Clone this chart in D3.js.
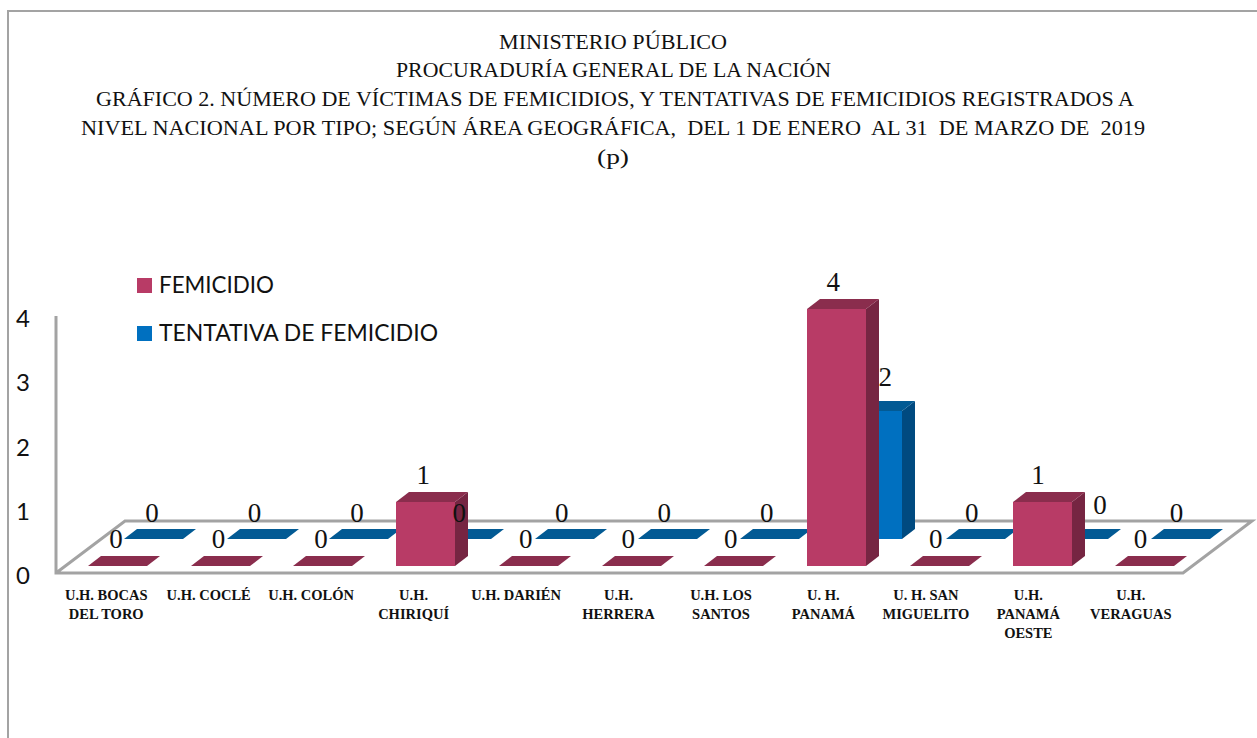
<!DOCTYPE html>
<html>
<head>
<meta charset="utf-8">
<script src="https://cdnjs.cloudflare.com/ajax/libs/d3/7.8.5/d3.min.js"></script>
<style>
  html, body { margin: 0; padding: 0; background: #fff; }
  svg { display: block; }
</style>
</head>
<body>
<div id="chart"></div>
<script>
// Data
const categories = ['BOCAS', 'COCLE', 'COLON', 'CHIRIQUI', 'DARIEN', 'HERRERA', 'SANTOS', 'PANAMA', 'MIGUELITO', 'OESTE', 'VERAGUAS'];
const categoryLabels = [
    ['U.H. BOCAS', 'DEL TORO'], ['U.H. COCLÉ'], ['U.H. COLÓN'], ['U.H.', 'CHIRIQUÍ'], ['U.H. DARIÉN'], ['U.H.', 'HERRERA'],
    ['U.H. LOS', 'SANTOS'], ['U. H.', 'PANAMÁ'], ['U. H. SAN', 'MIGUELITO'], ['U.H.', 'PANAMÁ', 'OESTE'], ['U.H.', 'VERAGUAS']
];
const femicidio = [0, 0, 0, 1, 0, 0, 0, 4, 0, 1, 0];
const tentativa = [0, 0, 0, 0, 0, 0, 0, 2, 0, 0, 0];
const yTicks = [0, 1, 2, 3, 4];
const titleLines = [
    'MINISTERIO PÚBLICO',
    'PROCURADURÍA GENERAL DE LA NACIÓN',
    'GRÁFICO 2. NÚMERO DE VÍCTIMAS DE FEMICIDIOS, Y TENTATIVAS DE FEMICIDIOS REGISTRADOS A',
    'NIVEL NACIONAL POR TIPO; SEGÚN ÁREA GEOGRÁFICA,  DEL 1 DE ENERO  AL 31  DE MARZO DE  2019',
    '(p)'
];
const titleWidths = [228, 435, 1038, 1064, 32];
const titleCenters = [613, 613.5, 615, 613, 613];
const seriesNames = ['FEMICIDIO', 'TENTATIVA DE FEMICIDIO'];
const seriesWidths = [115, 279];

const width = 1257, height = 738;
const serif = '"Liberation Serif", serif';
const sans = 'Lato, "Open Sans", sans-serif';
const gray = '#a3a3a3';

const svg = d3.select('#chart').append('svg')
    .attr('width', width)
    .attr('height', height);

// Outer frame, cut off by the right and bottom of the picture
svg.append('path')
    .attr('d', `M8,${height}V11H${width}`)
    .attr('fill', 'none')
    .attr('stroke', gray)
    .attr('stroke-width', 2);

// Title
svg.append('g').selectAll('text')
    .data(titleLines)
    .join('text')
    .attr('x', (d, i) => titleCenters[i])
    .attr('y', (d, i) => [49, 77, 106, 135, 164][i])
    .attr('text-anchor', 'middle')
    .attr('font-family', serif)
    .attr('font-size', 21)
    .attr('fill', '#111')
    .attr('textLength', (d, i) => titleWidths[i])
    .attr('lengthAdjust', 'spacingAndGlyphs')
    .attr('xml:space', 'preserve')
    .text(d => d);

// Scales
const xAxisScale = d3.scaleBand().domain(categories).range([56, 1183]);
const xBars = d3.scaleBand().domain(categories).range([56, 1186]);
const y = d3.scaleLinear().domain([0, 4]).range([566, 309]);

const barW = 59, depthX = 13, depthY = 10;
const backDX = 36, backDY = 27;   // blue row sits further back on the floor

// Floor and y wall
svg.append('path')
    .attr('d', 'M56,316V573H1183L1252,521H125L56,573')
    .attr('fill', 'none')
    .attr('stroke', gray)
    .attr('stroke-width', 3)
    .attr('stroke-linejoin', 'miter');

// Y axis labels only, no line
const yAxis = svg.append('g')
    .attr('transform', 'translate(30,10)')
    .call(d3.axisLeft(y).tickValues(yTicks).tickSize(0).tickPadding(0).tickFormat(d3.format('d')));
yAxis.select('.domain').remove();
yAxis.selectAll('text')
    .attr('font-family', sans)
    .attr('font-size', 24)
    .attr('fill', '#111');

// X axis labels
const xAxis = svg.append('g')
    .attr('transform', 'translate(0,573)')
    .call(d3.axisBottom(xAxisScale).tickSize(0).tickFormat(''));
xAxis.select('.domain').remove();
xAxis.selectAll('.tick text').each(function(d, i) {
    const t = d3.select(this)
        .attr('y', 0)
        .attr('dy', null)
        .attr('font-family', serif)
        .attr('font-weight', 'bold')
        .attr('font-size', 14.5)
        .attr('fill', '#111');
    t.selectAll('tspan')
        .data(categoryLabels[i])
        .join('tspan')
        .attr('x', -1)
        .attr('y', (l, k) => 27 + k * 19)
        .text(l => l);
});

// One 3D bar: front face, top face, side face.
// Rounded to whole pixels, otherwise hairline seams show between the faces
function drawBar(g, x0, value, dx, dy, colors) {
    const left = Math.round(x0 + dx);
    const base = Math.round(y(0) - dy);
    const top = Math.round(y(value) - dy);
    const right = left + barW;
    g.append('path')
        .attr('d', `M${right},${base}L${right + depthX},${base - depthY}V${top - depthY}L${right},${top}Z`)
        .attr('fill', colors.side);
    g.append('path')
        .attr('d', `M${left},${top}L${left + depthX},${top - depthY}H${right + depthX}L${right},${top}Z`)
        .attr('fill', colors.top);
    if (value > 0) {
        g.append('rect')
            .attr('x', left)
            .attr('y', top)
            .attr('width', barW)
            .attr('height', base - top)
            .attr('fill', colors.front);
    }
}

const redColors = { front: '#b83b66', top: '#8a2d4d', side: '#762542' };
const blueColors = { front: '#0070c0', top: '#025a94', side: '#004a80' };

const bars = svg.append('g');
categories.forEach((c, i) => drawBar(bars, xBars(c), tentativa[i], 32 + backDX, backDY, blueColors));
categories.forEach((c, i) => drawBar(bars, xBars(c), femicidio[i], 32, 0, redColors));

// Data labels; two of the blue ones were moved by hand in the original
const blueNudge = { PANAMA: [16, -8], OESTE: [26, -8] };
const labels = svg.append('g')
    .attr('font-family', serif)
    .attr('font-size', 27)
    .attr('fill', '#111')
    .attr('text-anchor', 'middle');
categories.forEach((c, i) => {
    const n = blueNudge[c] || [0, 0];
    labels.append('text')
        .attr('x', xAxisScale(c) + 96 + n[0])
        .attr('y', y(tentativa[i]) - backDY - 26 + 9 + n[1])
        .text(tentativa[i]);
    labels.append('text')
        .attr('x', xAxisScale(c) + 60)
        .attr('y', y(femicidio[i]) - 27 + 9)
        .text(femicidio[i]);
});

// Legend
const legend = svg.append('g');
seriesNames.forEach((name, i) => {
    legend.append('rect')
        .attr('x', 137)
        .attr('y', 278 + i * 48)
        .attr('width', 15)
        .attr('height', 15)
        .attr('fill', i === 0 ? redColors.front : blueColors.front);
    legend.append('text')
        .attr('x', 159)
        .attr('y', 293 + i * 48)
        .attr('font-family', sans)
        .attr('font-size', 23.5)
        .attr('fill', '#111')
        .attr('textLength', seriesWidths[i])
        .attr('lengthAdjust', 'spacingAndGlyphs')
        .text(name);
});
</script>
</body>
</html>
